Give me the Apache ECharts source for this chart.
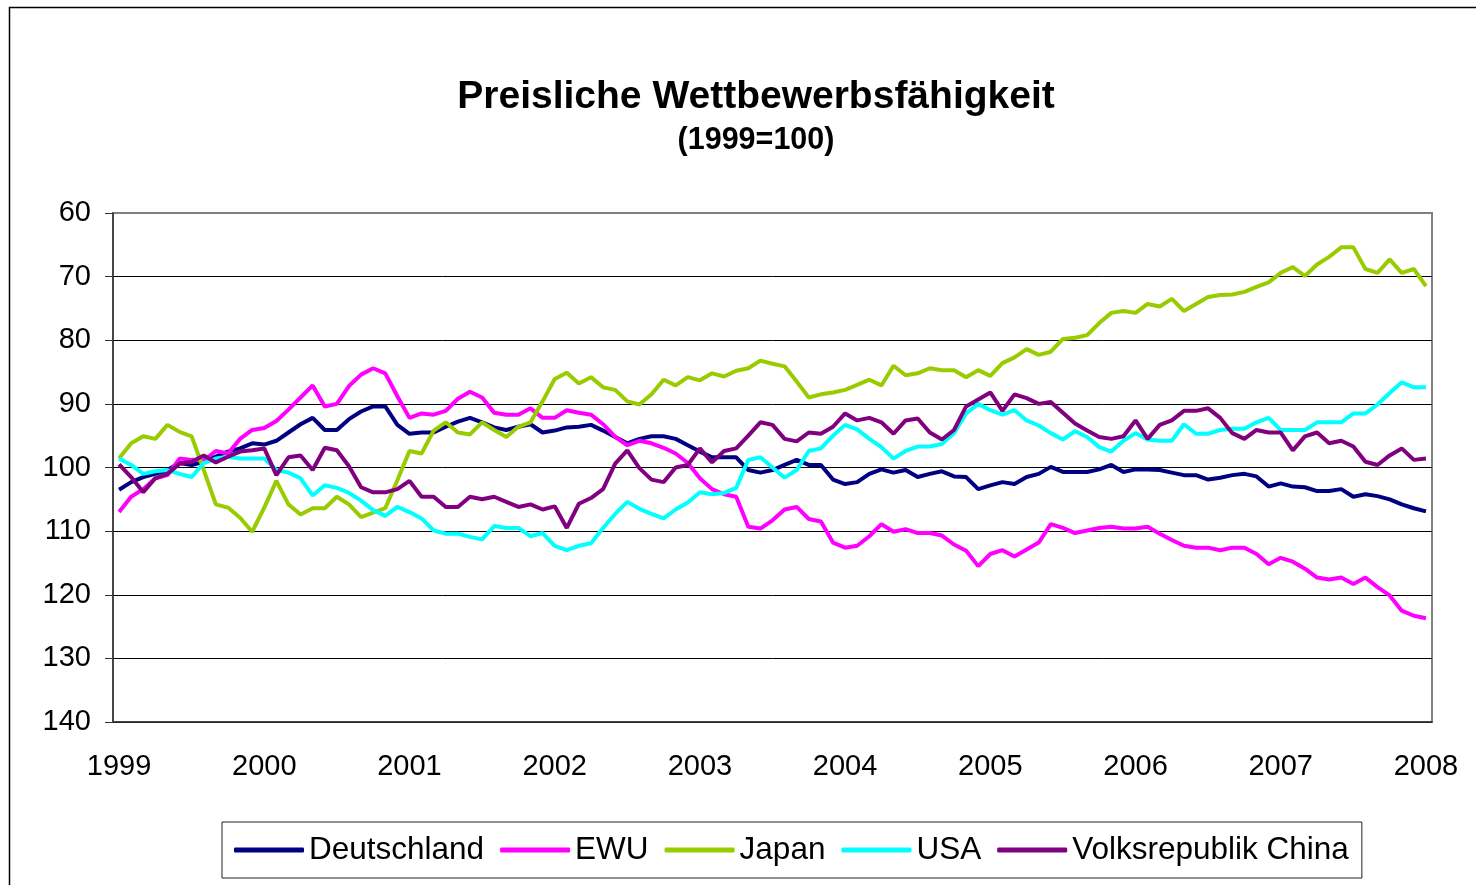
<!DOCTYPE html>
<html>
<head>
<meta charset="utf-8">
<script src="https://cdn.jsdelivr.net/npm/echarts@6/dist/echarts.min.js"></script>
<style>
  html, body { margin: 0; padding: 0; background: #fff; }
  #chart { width: 1476px; height: 885px; }
</style>
</head>
<body>
<div id="chart"></div>
<script>
// monthly values Jan 1999 .. Jan 2008 (index, 1999 = 100)
const years = ["1999", "2000", "2001", "2002", "2003", "2004", "2005", "2006", "2007", "2008"];
const yTicks = [60, 70, 80, 90, 100, 110, 120, 130, 140];

const deutschland = [
  103.5, 102.3, 101.5, 101.0, 100.4, 99.3, 99.6, 99.1, 98.3, 97.5, 97.0, 96.2,
  96.4, 95.8, 94.5, 93.2, 92.2, 94.1, 94.1, 92.4, 91.2, 90.4, 90.4, 93.3,
  94.7, 94.5, 94.5, 93.6, 92.8, 92.2, 92.9, 93.7, 94.1, 93.6, 93.2, 94.5,
  94.2, 93.7, 93.6, 93.3, 94.2, 95.2, 96.2, 95.5, 95.1, 95.1, 95.5, 96.5,
  97.5, 98.4, 98.4, 98.4, 100.4, 100.8, 100.4, 99.6, 98.8, 99.6, 99.6, 101.9,
  102.6, 102.3, 101.0, 100.3, 100.8, 100.4, 101.5, 101.0, 100.6, 101.4, 101.5, 103.4,
  102.8, 102.3, 102.6, 101.5, 101.0, 99.9, 100.7, 100.7, 100.7, 100.3, 99.6, 100.7,
  100.3, 100.3, 100.4, 100.8, 101.2, 101.2, 101.9, 101.6, 101.2, 101.0, 101.4, 103.0,
  102.5, 103.0, 103.1, 103.7, 103.7, 103.4, 104.6, 104.2, 104.5, 105.0, 105.8, 106.4,
  106.9
];
const ewu = [
  107.0, 104.6, 103.4, 101.7, 101.2, 98.6, 98.8, 98.9, 97.4, 97.8, 95.5, 94.1,
  93.8, 92.7, 90.9, 89.0, 87.1, 90.4, 90.0, 87.2, 85.4, 84.4, 85.2, 88.8,
  92.2, 91.5, 91.7, 91.1, 89.2, 88.1, 89.0, 91.4, 91.7, 91.7, 90.7, 92.2,
  92.2, 91.0, 91.4, 91.7, 93.2, 95.2, 96.5, 95.8, 96.2, 96.9, 97.8, 99.3,
  101.7, 103.4, 104.2, 104.6, 109.3, 109.6, 108.3, 106.6, 106.2, 108.1, 108.5, 111.8,
  112.6, 112.3, 110.8, 108.9, 110.1, 109.7, 110.3, 110.3, 110.7, 112.1, 113.1, 115.5,
  113.6, 113.0, 114.0, 112.9, 111.8, 108.9, 109.5, 110.3, 109.9, 109.5, 109.3, 109.6,
  109.6, 109.3, 110.4, 111.4, 112.3, 112.6, 112.6, 113.0, 112.6, 112.6, 113.6, 115.2,
  114.2, 114.8, 115.9, 117.3, 117.6, 117.3, 118.3, 117.3, 118.8, 120.1, 122.5, 123.3,
  123.7
];
const japan = [
  98.6, 96.2, 95.1, 95.5, 93.3, 94.4, 95.1, 100.4, 105.8, 106.3, 107.9, 110.1,
  106.3, 102.1, 105.8, 107.4, 106.4, 106.4, 104.6, 105.8, 107.8, 107.1, 106.4, 102.0,
  97.4, 97.8, 94.2, 92.9, 94.5, 94.8, 92.9, 94.1, 95.2, 93.6, 92.9, 89.6,
  86.1, 85.1, 86.8, 85.8, 87.4, 87.8, 89.6, 90.1, 88.5, 86.2, 87.1, 85.8,
  86.3, 85.2, 85.7, 84.8, 84.4, 83.2, 83.7, 84.1, 86.5, 89.0, 88.5, 88.2,
  87.8, 87.0, 86.2, 87.1, 84.0, 85.5, 85.2, 84.4, 84.7, 84.7, 85.8, 84.7,
  85.6, 83.6, 82.7, 81.4, 82.3, 81.8, 79.8, 79.6, 79.2, 77.3, 75.7, 75.4,
  75.7, 74.3, 74.7, 73.5, 75.4, 74.3, 73.2, 72.9, 72.8, 72.4, 71.6, 70.9,
  69.4, 68.5, 69.9, 68.1, 66.9, 65.4, 65.4, 68.8, 69.4, 67.3, 69.4, 68.8,
  71.5
];
const usa = [
  98.6, 99.6, 101.0, 100.6, 100.4, 101.0, 101.5, 99.3, 98.6, 98.3, 98.6, 98.6,
  98.6, 100.4, 100.8, 101.7, 104.4, 102.8, 103.2, 104.0, 105.2, 106.7, 107.6, 106.2,
  107.0, 108.0, 109.9, 110.4, 110.4, 110.9, 111.3, 109.2, 109.5, 109.5, 110.8, 110.3,
  112.3, 113.0, 112.3, 111.9, 109.5, 107.3, 105.4, 106.5, 107.3, 108.0, 106.6, 105.5,
  103.9, 104.2, 104.0, 103.2, 98.8, 98.4, 100.0, 101.6, 100.4, 97.4, 97.0, 95.0,
  93.3, 94.0, 95.5, 96.8, 98.6, 97.4, 96.7, 96.7, 96.3, 94.6, 91.5, 90.0,
  91.0, 91.7, 91.0, 92.6, 93.4, 94.6, 95.6, 94.3, 95.2, 96.8, 97.5, 95.8,
  94.6, 95.6, 95.8, 95.8, 93.2, 94.7, 94.7, 94.1, 93.9, 93.9, 92.9, 92.2,
  94.1, 94.1, 94.1, 92.9, 92.9, 92.9, 91.5, 91.5, 90.1, 88.3, 86.6, 87.4,
  87.4
];
const china = [
  99.5, 101.5, 103.9, 101.7, 101.0, 99.4, 99.1, 98.1, 99.2, 98.3, 97.5, 97.3,
  97.0, 101.2, 98.4, 98.1, 100.4, 96.9, 97.3, 99.8, 103.1, 103.9, 103.9, 103.4,
  102.1, 104.6, 104.6, 106.2, 106.2, 104.6, 105.0, 104.6, 105.4, 106.2, 105.8, 106.6,
  106.1, 109.5, 105.7, 104.8, 103.4, 99.4, 97.3, 100.1, 101.9, 102.3, 100.0, 99.6,
  97.0, 99.2, 97.4, 97.0, 95.0, 92.9, 93.3, 95.5, 95.9, 94.5, 94.7, 93.6,
  91.5, 92.6, 92.2, 92.9, 94.7, 92.6, 92.3, 94.5, 95.6, 94.1, 90.4, 89.3,
  88.2, 91.1, 88.5, 89.1, 90.0, 89.7, 91.4, 93.1, 94.2, 95.2, 95.5, 95.1,
  92.6, 95.5, 93.3, 92.6, 91.1, 91.1, 90.7, 92.2, 94.6, 95.5, 94.1, 94.5,
  94.5, 97.3, 95.1, 94.5, 96.2, 95.8, 96.7, 99.1, 99.6, 98.1, 97.0, 98.8,
  98.6
];

const seriesNames = ["Deutschland", "EWU", "Japan", "USA", "Volksrepublik China"];
const seriesData = [deutschland, ewu, japan, usa, china];
const colorList = ["#000080", "#ff00ff", "#99cc00", "#00ffff", "#800080"];

// month categories, one per value
let months = [];
for (let y = 0; y < years.length; y++) {
  for (let m = 1; m <= 12; m++) {
    if (months.length < deutschland.length) {
      months.push(years[y] + "-" + (m < 10 ? "0" + m : m));
    }
  }
}

const font = "'Liberation Sans', Arial, sans-serif";
let myChart = echarts.init(document.getElementById("chart"));

let _series = [];
for (let i = 0; i < seriesData.length; i++) {
  _series.push({
    name: seriesNames[i],
    type: "line",
    data: seriesData[i],
    symbol: "none",
    smooth: false,
    color: colorList[i],
    lineStyle: { width: 4, color: colorList[i] }
  });
}

let option = {
  backgroundColor: "#fff",
  animation: false,
  title: [
    {
      text: "Preisliche Wettbewerbsfähigkeit",
      left: 751,
      top: 73,
      textAlign: "center",
      textStyle: { fontFamily: font, fontSize: 39, fontWeight: "bold", color: "#000" }
    },
    {
      text: "(1999=100)",
      left: 751,
      top: 120,
      textAlign: "center",
      textStyle: { fontFamily: font, fontSize: 30.5, fontWeight: "bold", color: "#000" }
    }
  ],
  legend: {
    data: seriesNames,
    left: 222,
    top: 822,
    orient: "horizontal",
    icon: "roundRect",
    itemWidth: 70,
    itemHeight: 5,
    itemGap: 16,
    padding: [12, 13, 12, 12],
    borderColor: "#222",
    borderWidth: 1,
    textStyle: { fontFamily: font, fontSize: 31.5, color: "#000" }
  },
  graphic: [
    {
      // outer chart frame (right edge runs past the picture)
      type: "rect",
      shape: { x: 9.5, y: 7.5, width: 1480, height: 900 },
      style: { fill: "none", stroke: "#000", lineWidth: 1.5 },
      silent: true
    }
  ],
  grid: {
    left: 113,
    right: 44,
    top: 213,
    bottom: 163,
    show: true,
    borderColor: "#808080",
    borderWidth: 2,
    containLabel: false
  },
  xAxis: {
    type: "category",
    data: months,
    boundaryGap: true,
    axisLine: { lineStyle: { color: "#333", width: 1.5 } },
    axisTick: { interval: 11, length: 9, lineStyle: { color: "#333" } },
    axisLabel: {
      interval: 11,
      margin: 30,
      fontFamily: font,
      fontSize: 29,
      color: "#000",
      formatter: function (v) {
        return v.substr(0, 4);
      }
    },
    splitLine: { show: false }
  },
  yAxis: {
    type: "value",
    inverse: true,
    min: yTicks[0],
    max: yTicks[yTicks.length - 1],
    interval: 10,
    axisLine: { show: true, lineStyle: { color: "#333", width: 1.5 } },
    axisTick: { show: true, length: 8, lineStyle: { color: "#333" } },
    axisLabel: { margin: 22, fontFamily: font, fontSize: 29, color: "#000" },
    splitLine: {
      show: true,
      showMinLine: false,
      lineStyle: { color: "#000", width: 1, type: "solid" }
    }
  },
  series: _series
};
myChart.setOption(option);
</script>
</body>
</html>
